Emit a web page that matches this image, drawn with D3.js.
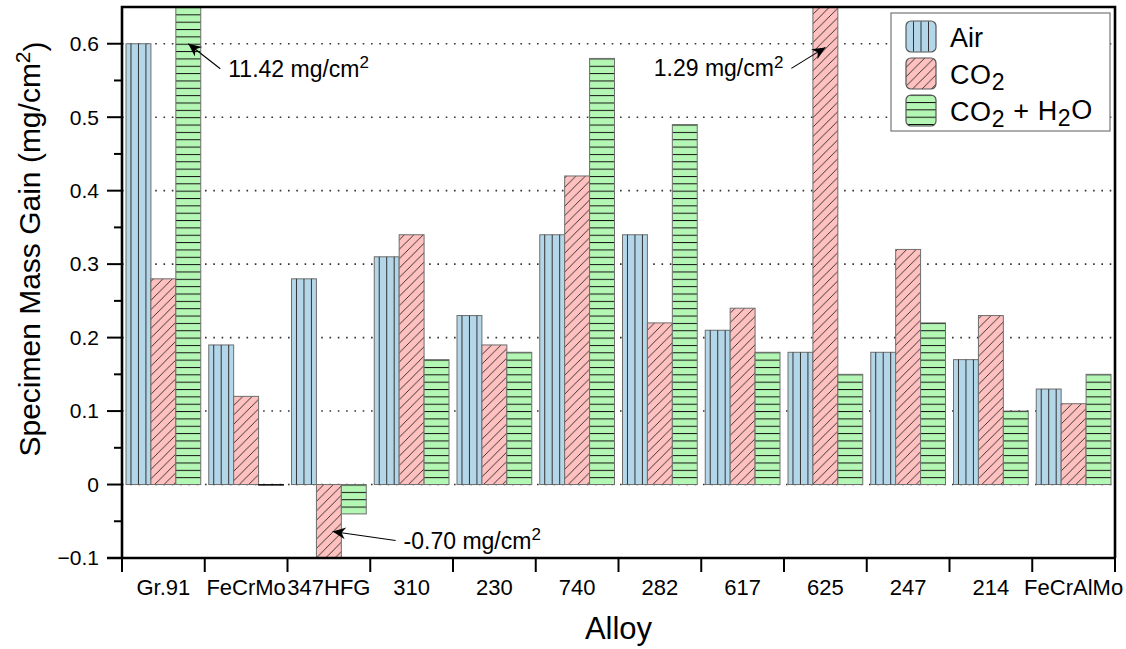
<!DOCTYPE html>
<html>
<head>
<meta charset="utf-8">
<script src="https://cdn.jsdelivr.net/npm/d3@7"></script>
<style>
  body { margin: 0; background: #fff; }
  svg { display: block; font-family: "Liberation Sans", Arial, Helvetica, sans-serif; }
</style>
</head>
<body>
<div id="chart"></div>
<script>
// data
const alloys = ["Gr.91", "FeCrMo", "347HFG", "310", "230", "740", "282", "617", "625", "247", "214", "FeCrAlMo"];
const airGain = [0.60, 0.19, 0.28, 0.31, 0.23, 0.34, 0.34, 0.21, 0.18, 0.18, 0.17, 0.13];
const co2Gain = [0.28, 0.12, -0.70, 0.34, 0.19, 0.42, 0.22, 0.24, 1.29, 0.32, 0.23, 0.11];
const wetGain = [11.42, 0.00, -0.04, 0.17, 0.18, 0.58, 0.49, 0.18, 0.15, 0.22, 0.10, 0.15];
const seriesKeys = ["air", "co2", "wet"];
const yTicks = [-0.1, 0, 0.1, 0.2, 0.3, 0.4, 0.5, 0.6];
const yMinorTicks = [-0.05, 0.05, 0.15, 0.25, 0.35, 0.45, 0.55];

// off-scale values get an arrow + label
const notes = [
    { alloy: "Gr.91", series: "wet", tipValue: 0.6, tipAt: 0.5, text: "11.42 mg/cm", dx: 32, dy: 25, side: "right" },
    { alloy: "625", series: "co2", tipValue: 0.595, tipAt: 0.5, text: "1.29 mg/cm", dx: -34, dy: 21, side: "left" },
    { alloy: "347HFG", series: "co2", tipValue: -0.064, tipAt: 0.65, text: "-0.70 mg/cm", dx: 63, dy: 9, side: "right" },
];

const W = 1126, H = 649;
const margin = { top: 7, right: 11, bottom: 91, left: 122 };

const svg = d3.select("#chart").append("svg")
    .attr("width", W).attr("height", H);

const defs = svg.append("defs");

const x = d3.scaleBand()
    .domain(alloys)
    .range([margin.left, W - margin.right]);

const xSub = d3.scaleBand()
    .domain(seriesKeys)
    .range([4, x.bandwidth() - 4]);

const y = d3.scaleLinear()
    .domain([-0.1, 0.65])
    .range([H - margin.bottom, margin.top]);

const colors = { air: "#b4d6e9", co2: "#ffc0c0", wet: "#b4f7b4" };
const edge = "#6e6e6e";

// patterns
const hs = 9.4;
const diag = defs.append("pattern")
    .attr("id", "pat-co2")
    .attr("patternUnits", "userSpaceOnUse")
    .attr("width", hs).attr("height", hs);
diag.append("rect").attr("width", hs).attr("height", hs).attr("fill", colors.co2);
diag.append("path")
    .attr("d", `M-1,1 l2,-2 M0,${hs} l${hs},${-hs} M${hs - 1},${hs + 1} l2,-2`)
    .attr("stroke", "#222").attr("stroke-width", 0.9);

const step = y(0) - y(0.01);
const horiz = defs.append("pattern")
    .attr("id", "pat-wet")
    .attr("patternUnits", "userSpaceOnUse")
    .attr("width", 10).attr("height", step)
    .attr("patternTransform", `translate(0,${y(0)})`);
horiz.append("rect").attr("width", 10).attr("height", step).attr("fill", colors.wet);
horiz.append("line")
    .attr("x1", 0).attr("x2", 10).attr("y1", 0.5).attr("y2", 0.5)
    .attr("stroke", "#111").attr("stroke-width", 1);

defs.append("clipPath").attr("id", "plot-clip")
    .append("rect")
    .attr("x", margin.left).attr("y", margin.top)
    .attr("width", W - margin.left - margin.right)
    .attr("height", H - margin.top - margin.bottom);

// dotted grid
svg.append("g")
    .selectAll("line")
    .data(yTicks.filter(d => d >= 0))
    .enter().append("line")
    .attr("x1", margin.left).attr("x2", W - margin.right)
    .attr("y1", d => y(d)).attr("y2", d => y(d))
    .attr("stroke", "#333")
    .attr("stroke-width", 1.6)
    .attr("stroke-dasharray", "1.6,6.7");

// bars
const rows = [];
alloys.forEach((a, i) => {
    rows.push({ alloy: a, key: "air", value: airGain[i] });
    rows.push({ alloy: a, key: "co2", value: co2Gain[i] });
    rows.push({ alloy: a, key: "wet", value: wetGain[i] });
});

const bars = svg.append("g").attr("clip-path", "url(#plot-clip)");

const bx = d => x(d.alloy) + xSub(d.key);
const by = d => Math.min(y(d.value), y(0));
const bh = d => Math.max(Math.abs(y(d.value) - y(0)), 0.6);

bars.selectAll("rect")
    .data(rows)
    .enter().append("rect")
    .attr("x", bx)
    .attr("y", by)
    .attr("width", xSub.bandwidth())
    .attr("height", bh)
    .attr("fill", d => d.key === "air" ? colors.air : `url(#pat-${d.key})`)
    .attr("stroke", d => d.value === 0 ? "#111" : edge)
    .attr("stroke-width", 1);

// vertical lines inside the Air bars
const airRows = rows.filter(d => d.key === "air");
[0.2, 0.5, 0.8].forEach(f => {
    bars.append("g").selectAll("line")
        .data(airRows)
        .enter().append("line")
        .attr("x1", d => bx(d) + f * xSub.bandwidth())
        .attr("x2", d => bx(d) + f * xSub.bandwidth())
        .attr("y1", by)
        .attr("y2", d => by(d) + bh(d))
        .attr("stroke", "#333")
        .attr("stroke-width", 1);
});

// axes
const axisColor = "#000";
const yAxis = svg.append("g");
yAxis.selectAll(".major")
    .data(yTicks)
    .enter().append("line")
    .attr("x1", margin.left - 15).attr("x2", margin.left)
    .attr("y1", d => y(d)).attr("y2", d => y(d))
    .attr("stroke", axisColor).attr("stroke-width", 2);
yAxis.selectAll(".minor")
    .data(yMinorTicks)
    .enter().append("line")
    .attr("x1", margin.left - 8).attr("x2", margin.left)
    .attr("y1", d => y(d)).attr("y2", d => y(d))
    .attr("stroke", axisColor).attr("stroke-width", 2);
yAxis.selectAll("text")
    .data(yTicks)
    .enter().append("text")
    .attr("x", margin.left - 23)
    .attr("y", d => y(d))
    .attr("dy", "0.35em")
    .attr("text-anchor", "end")
    .style("font-size", "21px")
    .text(d => d === 0 ? "0" : (d < 0 ? "\u2212" + Math.abs(d) : d.toFixed(1)));

const xEdges = alloys.map(a => x(a)).concat([x.range()[1]]);
const xAxis = svg.append("g");
xAxis.selectAll("line")
    .data(xEdges)
    .enter().append("line")
    .attr("x1", d => d).attr("x2", d => d)
    .attr("y1", y(-0.1)).attr("y2", y(-0.1) + 14)
    .attr("stroke", axisColor).attr("stroke-width", 2);
xAxis.selectAll("text")
    .data(alloys)
    .enter().append("text")
    .attr("x", d => x(d) + x.bandwidth() / 2)
    .attr("y", y(-0.1) + 37)
    .attr("text-anchor", "middle")
    .style("font-size", "22px")
    .text(d => d);

// frame
const x0 = x.range()[0], x1 = x.range()[1];
svg.append("path")
    .attr("d", `M${x0},${y(-0.1)} V${y(0.65)} H${x1} V${y(-0.1)}`)
    .attr("fill", "none").attr("stroke", axisColor).attr("stroke-width", 2.6);
svg.append("line")
    .attr("x1", x0 - 15).attr("x2", x1 + 1)
    .attr("y1", y(-0.1)).attr("y2", y(-0.1))
    .attr("stroke", axisColor).attr("stroke-width", 2.6);

// axis titles
const yTitle = svg.append("text")
    .attr("transform", `translate(40,249) rotate(-90)`)
    .attr("text-anchor", "middle")
    .style("font-size", "30px");
yTitle.append("tspan").text("Specimen Mass Gain (mg/cm");
yTitle.append("tspan").attr("dy", "-0.5em").style("font-size", "21px").text("2");
yTitle.append("tspan").attr("dy", "0.5em").text(")");

svg.append("text")
    .attr("x", (x0 + x1) / 2)
    .attr("y", 639)
    .attr("text-anchor", "middle")
    .style("font-size", "31px")
    .text("Alloy");

// annotations
defs.append("marker")
    .attr("id", "arrowhead")
    .attr("viewBox", "-14 -7 16 14")
    .attr("markerWidth", 16).attr("markerHeight", 14)
    .attr("markerUnits", "userSpaceOnUse")
    .attr("refX", 0).attr("refY", 0)
    .attr("orient", "auto")
    .append("path")
    .attr("d", "M0,0 L-13,-6 L-9,0 L-13,6 Z")
    .attr("fill", "#000");

notes.forEach(n => {
    const tipX = x(n.alloy) + xSub(n.series) + xSub.bandwidth() * n.tipAt;
    const tipY = y(n.tipValue);
    svg.append("line")
        .attr("x1", tipX + n.dx).attr("y1", tipY + n.dy)
        .attr("x2", tipX).attr("y2", tipY)
        .attr("stroke", "#000").attr("stroke-width", 1.1)
        .attr("marker-end", "url(#arrowhead)");
    const t = svg.append("text")
        .attr("x", n.side === "right" ? tipX + n.dx + 8 : tipX + n.dx - 8)
        .attr("y", tipY + n.dy + 8)
        .attr("text-anchor", n.side === "right" ? "start" : "end")
        .style("font-size", "23px");
    t.append("tspan").text(n.text);
    t.append("tspan").attr("dy", "-0.5em").style("font-size", "17px").text("2");
});

// legend
const legend = svg.append("g").attr("transform", "translate(891,13)");
legend.append("rect")
    .attr("width", 219).attr("height", 118)
    .attr("fill", "#fff").attr("stroke", "#777").attr("stroke-width", 1.2);

const legendItems = [
    { key: "air", label: ["Air"] },
    { key: "co2", label: ["CO", "2", ""] },
    { key: "wet", label: ["CO", "2", " + H", "2", "O"] },
];
legendItems.forEach((item, i) => {
    const g = legend.append("g").attr("transform", `translate(15,${8 + i * 37})`);
    g.append("rect")
        .attr("width", 30).attr("height", 31).attr("rx", 5)
        .attr("fill", item.key === "air" ? colors.air : `url(#pat-${item.key})`)
        .attr("stroke", "#555").attr("stroke-width", 1.2);
    if (item.key === "air") {
        [0.25, 0.5, 0.75].forEach(f => {
            g.append("line")
                .attr("x1", 30 * f).attr("x2", 30 * f)
                .attr("y1", 0.5).attr("y2", 30.5)
                .attr("stroke", "#333").attr("stroke-width", 1);
        });
    }
    const t = g.append("text")
        .attr("x", 44).attr("y", 26)
        .style("font-size", "27px")
        .style("letter-spacing", item.key === "air" ? null : "0.6px");
    item.label.forEach((s, j) => {
        const sub = j % 2 === 1;
        t.append("tspan")
            .attr("dy", sub ? "0.28em" : (j > 0 ? "-0.28em" : null))
            .style("font-size", sub ? "23px" : null)
            .text(s);
    });
});
</script>
</body>
</html>
